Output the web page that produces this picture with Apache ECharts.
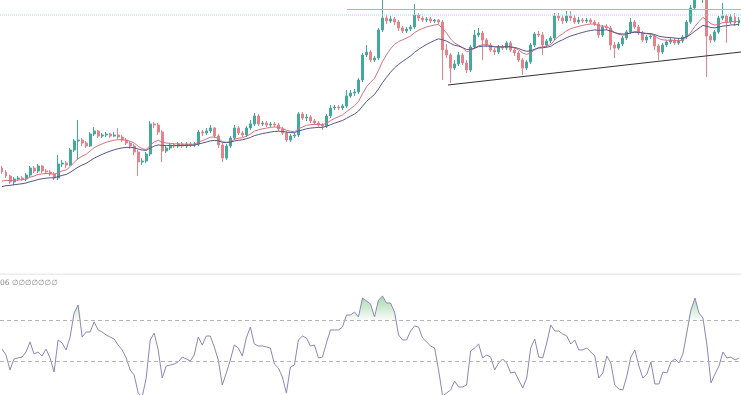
<!DOCTYPE html>
<html><head><meta charset="utf-8">
<script src="https://cdn.jsdelivr.net/npm/echarts@6/dist/echarts.min.js"></script>
<style>html,body{margin:0;padding:0;background:#fff;overflow:hidden}#c{width:741px;height:395px}</style>
</head><body><div id="c"></div><script>
// ---- data (price units) ----
const firstOpen = 132;
const closes = [128,124,118,121,122,121,125,132,129,134,
 129,128,126,122,136,137,135,150,159,160,
 157,154,166,169,164,165,166,164,165,163,
 160,157,154,148,138,139,146,176,175,168,
 149,152,155,154,156,154,156,155,156,168,
 167,169,172,164,155,142,154,162,172,167,
 165,172,176,184,176,177,175,176,175,171,
 167,160,164,165,186,182,183,179,177,175,
 174,184,192,193,192,194,204,207,208,220,
 245,248,240,242,270,282,279,281,278,272,
 269,271,273,285,282,280,281,279,280,278,
 250,245,232,236,245,237,230,253,265,267,
 260,255,250,248,253,252,257,250,247,240,
 232,238,255,266,265,255,259,262,284,282,
 279,284,282,278,280,279,280,278,276,265,
 273,272,255,252,256,262,268,278,273,267,
 260,263,264,254,248,255,258,260,257,259,
 263,278,292,303,302,304,264,260,268,282,
 284,278,283,277,280];
const highs = [134,130,125,123,124,124,127,134,134,136,
 135,131,130,128,145,140,139,152,161,180,
 162,159,168,173,170,167,168,167,168,172,
 165,162,159,156,150,142,148,179,178,177,
 170,155,157,157,158,158,158,158,158,170,
 170,172,175,173,166,157,156,164,175,174,
 169,174,180,187,186,179,179,178,178,177,
 173,169,166,167,188,188,186,185,181,179,
 177,186,195,195,195,196,210,210,211,222,
 247,255,250,244,272,300,285,284,283,280,
 274,273,275,296,287,284,283,283,281,281,
 280,256,247,240,248,247,240,255,270,272,
 269,262,257,252,255,255,259,259,252,249,
 242,240,257,268,269,268,261,264,287,287,
 285,289,289,285,283,282,282,282,280,278,
 275,276,274,258,258,264,270,282,280,275,
 269,265,267,266,256,257,260,262,262,262,
 265,280,295,306,306,307,306,266,270,284,
 297,286,286,287,283];
const lows = [126,122,116,115,119,119,119,123,127,127,
 127,126,124,120,120,133,132,134,148,140,
 154,152,153,164,162,162,163,162,163,161,
 158,155,151,145,124,135,137,144,172,165,
 138,147,150,152,152,152,152,153,153,154,
 164,165,167,162,152,138,140,152,160,165,
 163,163,170,174,174,174,173,173,173,169,
 165,158,158,162,163,180,179,177,175,173,
 170,172,182,190,190,190,192,202,204,206,
 218,243,238,238,240,268,276,277,275,269,
 267,267,269,271,279,278,278,277,277,276,
 220,242,217,230,234,235,227,228,251,263,
 240,253,248,245,246,250,250,248,244,238,
 225,230,236,253,263,245,253,257,260,279,
 276,277,279,276,276,277,277,276,274,262,
 263,270,250,242,250,254,260,266,271,265,
 258,257,261,250,240,246,253,256,255,255,
 257,261,276,290,300,297,223,257,258,266,
 280,257,276,274,274];
const rsi = [42.4,36.6,22.0,32.7,33.7,34.6,39.5,49.3,37.6,39.5,
 35.6,42.4,33.7,20.0,51.2,48.3,41.5,54.1,77.6,85.4,
 54.1,59.0,59.0,68.8,61.0,59.0,56.1,54.1,52.2,46.3,
 41.5,33.7,22.0,17.1,-0.5,-4.4,14.1,51.2,58.0,41.5,
 14.1,25.9,26.8,27.8,29.8,34.6,32.7,30.7,36.6,54.1,
 46.3,55.1,55.1,44.4,31.7,7.3,19.0,31.7,46.3,43.4,
 35.6,53.2,63.9,47.3,45.4,45.4,44.4,43.4,27.8,23.9,
 15.1,-0.5,24.9,26.8,51.2,55.1,53.2,45.4,46.3,33.7,
 34.6,48.3,61.0,61.0,61.0,63.9,75.6,75.6,78.5,73.7,
 92.2,89.3,86.3,73.7,90.2,94.1,87.3,87.3,78.5,56.1,
 51.2,51.2,60.0,64.9,63.9,53.2,49.3,45.4,43.4,22.0,
 -3.4,-0.5,2.4,11.2,5.4,5.4,7.3,40.5,43.4,47.3,
 33.7,36.6,34.6,22.0,28.8,32.7,28.8,19.0,20.0,12.2,
 4.4,14.1,43.4,52.2,34.6,33.7,48.3,65.9,60.0,60.0,
 57.1,55.1,47.3,51.2,41.5,41.5,43.4,39.5,35.6,14.1,
 19.0,35.6,28.8,7.3,3.4,2.4,16.1,34.6,41.5,25.9,
 14.1,18.0,29.8,8.3,8.3,20.0,19.0,29.8,32.7,28.8,
 37.6,59.0,80.5,92.2,77.6,72.7,46.3,9.3,18.0,25.9,
 39.5,33.7,34.6,31.7,33.7];
const categories = closes.map((_, i) => String(i + 1));
const resistanceLevel = 290.5, resistanceFrom = 86.13;
const dottedLevel = 285;
const trendStart = [111.35, 215], trendEnd = [184.5, 248];
const rsiUpper = 70, rsiLower = 30;
const emaFastPeriod = 11, emaSlowPeriod = 22, emaFastSeed = 117, emaSlowSeed = 112;
const rsiLabel = '06 \u2205\u2205\u2205\u2205\u2205\u2205\u2205';

// ---- derived ----
function ema(src, n, seed) { const a = 2 / (n + 1); let v = seed; return src.map(c => { v = v + a * (c - v); return +v.toFixed(2); }); }
const candles = closes.map((c, i) => [i ? closes[i - 1] : firstOpen, c, lows[i], highs[i]]);
const emaFast = ema(closes, emaFastPeriod, emaFastSeed);
const emaSlow = ema(closes, emaSlowPeriod, emaSlowSeed);
const obBase = rsi.map(() => rsiUpper);
const obExcess = rsi.map(v => Math.max(v - rsiUpper, 0));
const lastIdx = closes.length - 0.5;

const chart = echarts.init(document.getElementById('c'), null, {renderer: 'canvas'});
chart.setOption({
  animation: false,
  backgroundColor: '#ffffff',
  grid: [
    {left: 0, right: 0, top: 0, height: 272},
    {left: 0, right: 0, top: 290, height: 105}
  ],
  xAxis: [
    {type: 'category', gridIndex: 0, data: categories, show: false, boundaryGap: true},
    {type: 'value', gridIndex: 0, min: -0.5, max: lastIdx, show: false},
    {type: 'category', gridIndex: 1, data: categories, show: false, boundaryGap: true}
  ],
  yAxis: [
    {type: 'value', gridIndex: 0, min: 28, max: 300, show: false, splitLine: {show: false}},
    {type: 'value', gridIndex: 1, min: -2.44, max: 100, show: false, splitLine: {show: false}}
  ],
  graphic: [
    {type: 'rect', shape: {x: 0, y: 273.5, width: 741, height: 1.5}, style: {fill: '#ececec'}, silent: true},
    {type: 'text', x: 0, y: 279.5, style: {text: rsiLabel, fontSize: 7.5, fontFamily: 'DejaVu Sans', fill: '#8a8a8a'}, silent: true}
  ],
  series: [
    {type: 'line', xAxisIndex: 1, yAxisIndex: 0, data: [[-0.5, dottedLevel], [lastIdx, dottedLevel]],
     symbol: 'none', silent: true, lineStyle: {color: '#a9d3d8', width: 1, type: 'dotted'}},
    {type: 'line', xAxisIndex: 1, yAxisIndex: 0, data: [[resistanceFrom, resistanceLevel], [lastIdx, resistanceLevel]],
     symbol: 'none', silent: true, lineStyle: {color: '#c9a6c6', width: 1}},
    {type: 'candlestick', xAxisIndex: 0, yAxisIndex: 0, data: candles, barWidth: '62%', clip: true,
     itemStyle: {color: '#45a8a0', color0: '#e3838c', borderColor: '#45a8a0', borderColor0: '#e3838c', borderWidth: 1}},
    {type: 'line', xAxisIndex: 0, yAxisIndex: 0, data: emaFast, symbol: 'none', smooth: false, silent: true,
     lineStyle: {color: '#d9707e', width: 1}},
    {type: 'line', xAxisIndex: 0, yAxisIndex: 0, data: emaSlow, symbol: 'none', smooth: false, silent: true,
     lineStyle: {color: '#55558a', width: 1}},
    {type: 'line', xAxisIndex: 1, yAxisIndex: 0, data: [trendStart, trendEnd],
     symbol: 'none', silent: true, lineStyle: {color: '#333333', width: 1.2}},
    {type: 'line', xAxisIndex: 2, yAxisIndex: 1, data: obBase, stack: 'ob', symbol: 'none', silent: true,
     lineStyle: {width: 0, opacity: 0}},
    {type: 'line', xAxisIndex: 2, yAxisIndex: 1, data: obExcess, stack: 'ob', symbol: 'none', silent: true,
     lineStyle: {width: 0, opacity: 0},
     areaStyle: {color: new echarts.graphic.LinearGradient(0, 290, 0, 320.75, [
       {offset: 0, color: 'rgba(76,175,90,0.6)'}, {offset: 1, color: 'rgba(76,175,90,0.02)'}], true), opacity: 1}},
    {type: 'line', xAxisIndex: 2, yAxisIndex: 1, data: rsi, symbol: 'none', silent: true,
     lineStyle: {color: '#8c86b8', width: 1},
     markLine: {silent: true, symbol: 'none', label: {show: false},
       lineStyle: {color: '#b5b5b5', width: 1, type: [4, 3]},
       data: [{yAxis: rsiUpper}, {yAxis: rsiLower}]}}
  ]
});
</script></body></html>
